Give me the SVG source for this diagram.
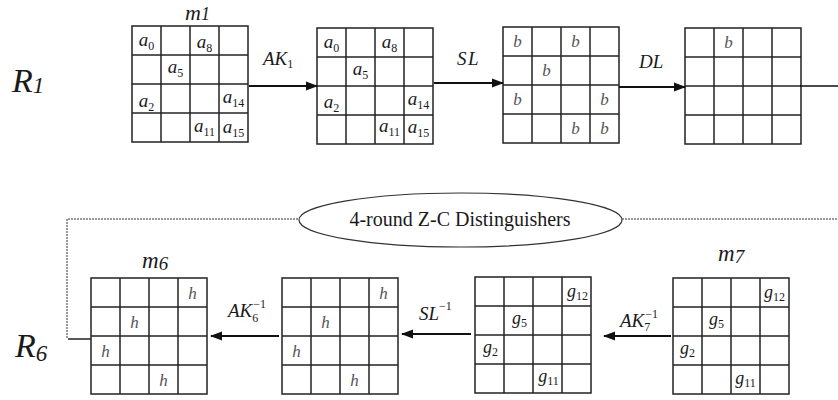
<svg xmlns="http://www.w3.org/2000/svg" xmlns:xlink="http://www.w3.org/1999/xlink" width="838" height="400" viewBox="0 0 838 400">
<style>
  .g line, .g rect { stroke: #222; stroke-width: 1.5; fill: none; }
  text { font-family: "Liberation Serif", "Times New Roman", serif; fill: #1a1a1a; }
  .it { font-style: italic; }
  .c { font-style: italic; font-size: 19px; text-anchor: middle; }
  .cb { font-style: italic; font-size: 17px; text-anchor: middle; fill: #555; }
  .cg { font-style: italic; font-size: 18px; text-anchor: middle; }
  .sub { font-style: normal; font-size: 12px; }
  .arrow { stroke: #111; stroke-width: 2; fill: none; }
  .dot { stroke: #333; stroke-width: 1; stroke-dasharray: 2 1; fill: none; }
  .big { font-style: italic; font-size: 34px; }
  .op { font-style: italic; font-size: 19px; }
</style>
<defs>
  <g id="grid" class="g">
    <rect x="0" y="0" width="116" height="116"/>
    <line x1="29" y1="0" x2="29" y2="116"/>
    <line x1="58" y1="0" x2="58" y2="116"/>
    <line x1="87" y1="0" x2="87" y2="116"/>
    <line x1="0" y1="29" x2="116" y2="29"/>
    <line x1="0" y1="58" x2="116" y2="58"/>
    <line x1="0" y1="87" x2="116" y2="87"/>
  </g>
  <marker id="ah" markerWidth="12" markerHeight="10" refX="11" refY="5" orient="auto" markerUnits="userSpaceOnUse">
    <path d="M0,0.5 L12,5 L0,9.5 Z" fill="#111"/>
  </marker>
</defs>

<!-- Row labels -->
<text class="big" x="12" y="92">R<tspan font-size="23" dy="1">1</tspan></text>
<text class="big" x="15" y="357">R<tspan font-size="23" dy="4">6</tspan></text>

<!-- Top row -->
<g id="m1">
  <text class="it" font-size="22" x="185" y="20">m<tspan font-size="18" dy="0">1</tspan></text>
  <use xlink:href="#grid" x="132" y="26"/>
  <text class="c" x="146.5" y="46">a<tspan class="sub" dy="4">0</tspan></text>
  <text class="c" x="204.5" y="48">a<tspan class="sub" dy="4">8</tspan></text>
  <text class="c" x="175.5" y="73">a<tspan class="sub" dy="4">5</tspan></text>
  <text class="c" x="146.5" y="107">a<tspan class="sub" dy="4">2</tspan></text>
  <text class="c" x="233.5" y="103">a<tspan class="sub" dy="4">14</tspan></text>
  <text class="c" x="204.5" y="132">a<tspan class="sub" dy="4">11</tspan></text>
  <text class="c" x="233.5" y="133">a<tspan class="sub" dy="4">15</tspan></text>
</g>

<g id="ak1">
  <use xlink:href="#grid" x="317" y="28"/>
  <text class="c" x="331.5" y="48">a<tspan class="sub" dy="4">0</tspan></text>
  <text class="c" x="389.5" y="48">a<tspan class="sub" dy="4">8</tspan></text>
  <text class="c" x="360.5" y="75">a<tspan class="sub" dy="4">5</tspan></text>
  <text class="c" x="331.5" y="108">a<tspan class="sub" dy="4">2</tspan></text>
  <text class="c" x="418.5" y="105">a<tspan class="sub" dy="4">14</tspan></text>
  <text class="c" x="389.5" y="132">a<tspan class="sub" dy="4">11</tspan></text>
  <text class="c" x="418.5" y="133">a<tspan class="sub" dy="4">15</tspan></text>
</g>

<g id="sl">
  <use xlink:href="#grid" x="503" y="27"/>
  <text class="cb" x="517.5" y="47">b</text>
  <text class="cb" x="575.5" y="47">b</text>
  <text class="cb" x="546.5" y="76">b</text>
  <text class="cb" x="517.5" y="105">b</text>
  <text class="cb" x="604.5" y="105">b</text>
  <text class="cb" x="575.5" y="134">b</text>
  <text class="cb" x="604.5" y="134">b</text>
</g>

<g id="dl">
  <use xlink:href="#grid" x="685" y="28"/>
  <text class="cb" x="728.5" y="48">b</text>
</g>

<!-- Bottom row -->
<g id="m6">
  <text class="it" font-size="23" x="142" y="268">m<tspan font-size="19" dy="2">6</tspan></text>
  <use xlink:href="#grid" x="91" y="278"/>
  <text class="cb" x="192.5" y="299">h</text>
  <text class="cb" x="134.5" y="328">h</text>
  <text class="cb" x="105.5" y="357">h</text>
  <text class="cb" x="163.5" y="386">h</text>
</g>

<g id="sl6">
  <use xlink:href="#grid" x="282" y="278"/>
  <text class="cb" x="383.5" y="299">h</text>
  <text class="cb" x="325.5" y="328">h</text>
  <text class="cb" x="296.5" y="357">h</text>
  <text class="cb" x="354.5" y="386">h</text>
</g>

<g id="ak7">
  <use xlink:href="#grid" x="475" y="277"/>
  <text class="cg" x="577.5" y="297">g<tspan class="sub" dy="3">12</tspan></text>
  <text class="cg" x="519.5" y="324">g<tspan class="sub" dy="3">5</tspan></text>
  <text class="cg" x="490.5" y="353">g<tspan class="sub" dy="3">2</tspan></text>
  <text class="cg" x="548.5" y="382">g<tspan class="sub" dy="3">11</tspan></text>
</g>

<g id="m7">
  <text class="it" font-size="23" x="718" y="261">m<tspan font-size="19" dy="2">7</tspan></text>
  <use xlink:href="#grid" x="673" y="278"/>
  <text class="cg" x="774.5" y="298">g<tspan class="sub" dy="3">12</tspan></text>
  <text class="cg" x="716.5" y="325">g<tspan class="sub" dy="3">5</tspan></text>
  <text class="cg" x="687.5" y="354">g<tspan class="sub" dy="3">2</tspan></text>
  <text class="cg" x="745.5" y="384">g<tspan class="sub" dy="3">11</tspan></text>
</g>

<g id="distinguisher">
  <ellipse cx="460.5" cy="220" rx="161.5" ry="27" fill="none" stroke="#333" stroke-width="1.2"/>
  <text x="460" y="226" font-size="20" text-anchor="middle">4-round Z-C Distinguishers</text>
</g>

<!-- Connectors -->
<g id="connectors">
  <line class="arrow" x1="249" y1="86" x2="317" y2="86" marker-end="url(#ah)"/>
  <line class="arrow" x1="434" y1="83" x2="503" y2="83" marker-end="url(#ah)"/>
  <line class="arrow" x1="619" y1="87" x2="685" y2="87" marker-end="url(#ah)"/>
  <line x1="800" y1="86" x2="838" y2="86" stroke="#111" stroke-width="1.5"/>

  <line class="arrow" x1="279" y1="336" x2="211" y2="336" marker-end="url(#ah)"/>
  <line class="arrow" x1="471" y1="334" x2="402" y2="334" marker-end="url(#ah)"/>
  <line class="arrow" x1="671" y1="336" x2="604" y2="336" marker-end="url(#ah)"/>

  <polyline class="dot" points="67,338 67,219 299,219"/>
  <line class="dot" x1="622" y1="219" x2="838" y2="219"/>
  <line x1="68" y1="339" x2="91" y2="339" stroke="#222" stroke-width="1.5"/>

  <text class="op" x="263" y="65">AK<tspan class="sub" font-size="11" dy="3">1</tspan></text>
  <text class="op" x="457" y="65" font-size="20" letter-spacing="1.5">SL</text>
  <text class="op" x="639" y="68" font-size="21">DL</text>
  <text class="op" x="228" y="317" font-size="17">AK<tspan class="sub" font-size="10" dy="5">6</tspan><tspan class="sub" font-size="11" dx="-5" dy="-14">−1</tspan></text>
  <text class="op" x="419" y="320">SL<tspan class="sub" font-size="11" dy="-10">−1</tspan></text>
  <text class="op" x="620" y="327">AK<tspan class="sub" font-size="11" dy="4">7</tspan><tspan class="sub" font-size="12" dx="-5" dy="-13">−1</tspan></text>
</g>
</svg>
